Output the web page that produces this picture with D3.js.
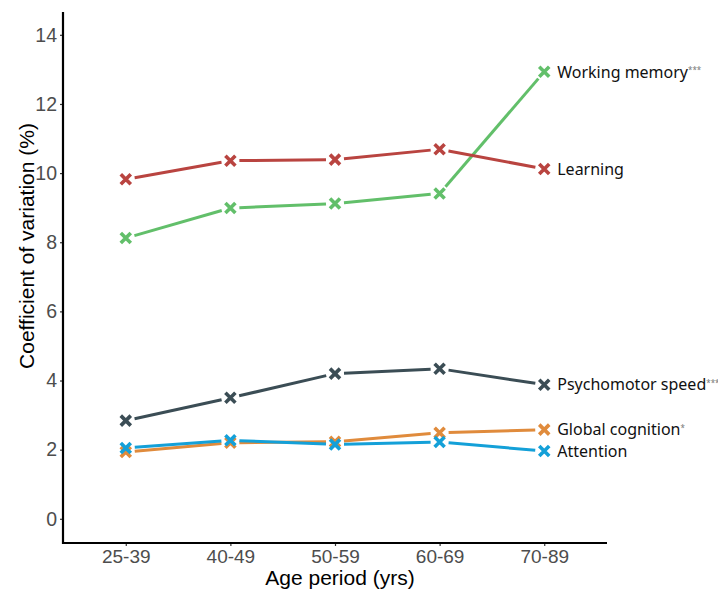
<!DOCTYPE html>
<html>
<head>
<meta charset="utf-8">
<script src="https://cdn.jsdelivr.net/npm/d3@7"></script>
<style>
  body { margin: 0; background: #fff; }
  svg { display: block; }
</style>
</head>
<body>
<svg id="chart"></svg>
<script>
const width = 718
const height = 593

const ages = ['25-39', '40-49', '50-59', '60-69', '70-89']
const yTicks = [0, 2, 4, 6, 8, 10, 12, 14]

const seriesNames = ['Working memory', 'Learning', 'Psychomotor speed', 'Global cognition', 'Attention']
const seriesStars = ['***', '', '***', '*', '']
const seriesColors = ['#62bf6a', '#b94440', '#3b4d55', '#e08b3c', '#14a0d8']

const workingMemory = [8.12, 8.99, 9.12, 9.41, 12.93]
const learning = [9.82, 10.36, 10.39, 10.69, 10.12]
const psychomotor = [2.84, 3.50, 4.20, 4.34, 3.88]
const globalCognition = [1.93, 2.20, 2.23, 2.49, 2.58]
const attention = [2.05, 2.27, 2.15, 2.22, 1.96]

const seriesValues = [workingMemory, learning, psychomotor, globalCognition, attention]

const series = seriesNames.map((name, i) => ({
  name,
  stars: seriesStars[i],
  color: seriesColors[i],
  points: seriesValues[i].map((v, j) => ({age: ages[j], value: v}))
}))

const margin = {left: 63, right: 111, top: 12, bottom: 50}
const axisFont = '"Liberation Sans", Arial, sans-serif'

const svg = d3.select('#chart')
  .attr('width', width)
  .attr('height', height)

// discrete x like ggplot (0.6 expansion each side)
const x = d3.scalePoint()
  .domain(ages)
  .range([margin.left, width - margin.right])
  .padding(0.6)

const y = d3.scaleLinear()
  .domain([-0.7, 14.66])
  .range([height - margin.bottom, margin.top])

// axes
const yAxis = svg.append('g')
  .attr('transform', `translate(${margin.left},0)`)
  .call(d3.axisLeft(y).tickValues(yTicks).tickSize(3).tickPadding(3).tickFormat(d3.format('d')))
yAxis.select('.domain').remove()
yAxis.selectAll('.tick line').attr('stroke', '#333').attr('stroke-width', 1.2)
yAxis.selectAll('.tick text')
  .attr('fill', '#4d4d4d')
  .style('font-family', axisFont)
  .style('font-size', '19.5px')

const xAxis = svg.append('g')
  .attr('transform', `translate(0,${height - margin.bottom})`)
  .call(d3.axisBottom(x).tickSize(3).tickPadding(4))
xAxis.select('.domain').remove()
xAxis.selectAll('.tick line').attr('stroke', '#333').attr('stroke-width', 1.2)
xAxis.selectAll('.tick text')
  .attr('fill', '#4d4d4d')
  .style('font-family', axisFont)
  .style('font-size', '19px')

// axis lines
svg.append('line')
  .attr('x1', margin.left).attr('x2', margin.left)
  .attr('y1', margin.top).attr('y2', height - margin.bottom + 1)
  .attr('stroke', '#000').attr('stroke-width', 2.2)
svg.append('line')
  .attr('x1', margin.left - 1).attr('x2', width - margin.right)
  .attr('y1', height - margin.bottom).attr('y2', height - margin.bottom)
  .attr('stroke', '#000').attr('stroke-width', 2.2)

// axis titles
svg.append('text')
  .attr('x', 340)
  .attr('y', 585)
  .attr('text-anchor', 'middle')
  .style('font-family', axisFont)
  .style('font-size', '21px')
  .text('Age period (yrs)')

svg.append('text')
  .attr('transform', 'translate(34,246) rotate(-90)')
  .attr('text-anchor', 'middle')
  .style('font-family', axisFont)
  .style('font-size', '21px')
  .text('Coefficient of variation (%)')

// lines with a gap around each point
const gap = 9
const segs = []
series.forEach(s => {
  d3.pairs(s.points).forEach(([a, b]) => {
    const x1 = x(a.age), y1 = y(a.value), x2 = x(b.age), y2 = y(b.value)
    const len = Math.hypot(x2 - x1, y2 - y1)
    const ux = (x2 - x1) / len, uy = (y2 - y1) / len
    segs.push({color: s.color, x1: x1 + ux * gap, y1: y1 + uy * gap, x2: x2 - ux * gap, y2: y2 - uy * gap})
  })
})

svg.append('g').selectAll('line')
  .data(segs)
  .join('line')
  .attr('x1', d => d.x1).attr('y1', d => d.y1)
  .attr('x2', d => d.x2).attr('y2', d => d.y2)
  .attr('stroke', d => d.color)
  .attr('stroke-width', 3)

// x markers
const r = 5
const markers = svg.append('g').selectAll('g')
  .data(series.flatMap(s => s.points.map(p => ({...p, color: s.color}))))
  .join('g')
  .attr('transform', d => `translate(${x(d.age)},${y(d.value)})`)
markers.append('path')
  .attr('d', `M${-r},${-r}L${r},${r}M${-r},${r}L${r},${-r}`)
  .attr('stroke', d => d.color)
  .attr('stroke-width', 3.6)
  .attr('fill', 'none')

// direct labels
const labels = svg.append('g').selectAll('text')
  .data(series)
  .join('text')
  .attr('x', x(ages[ages.length - 1]) + 13)
  .attr('y', d => y(d.points[d.points.length - 1].value))
  .attr('dy', '0.36em')
  .style('font-family', '"Noto Sans", "Open Sans", sans-serif')
  .style('font-size', '16px')
  .attr('fill', '#111')
labels.append('tspan').text(d => d.name)
labels.append('tspan')
  .attr('dy', '-0.55em')
  .style('font-size', '8px')
  .attr('fill', '#777')
  .text(d => d.stars)
</script>
</body>
</html>
